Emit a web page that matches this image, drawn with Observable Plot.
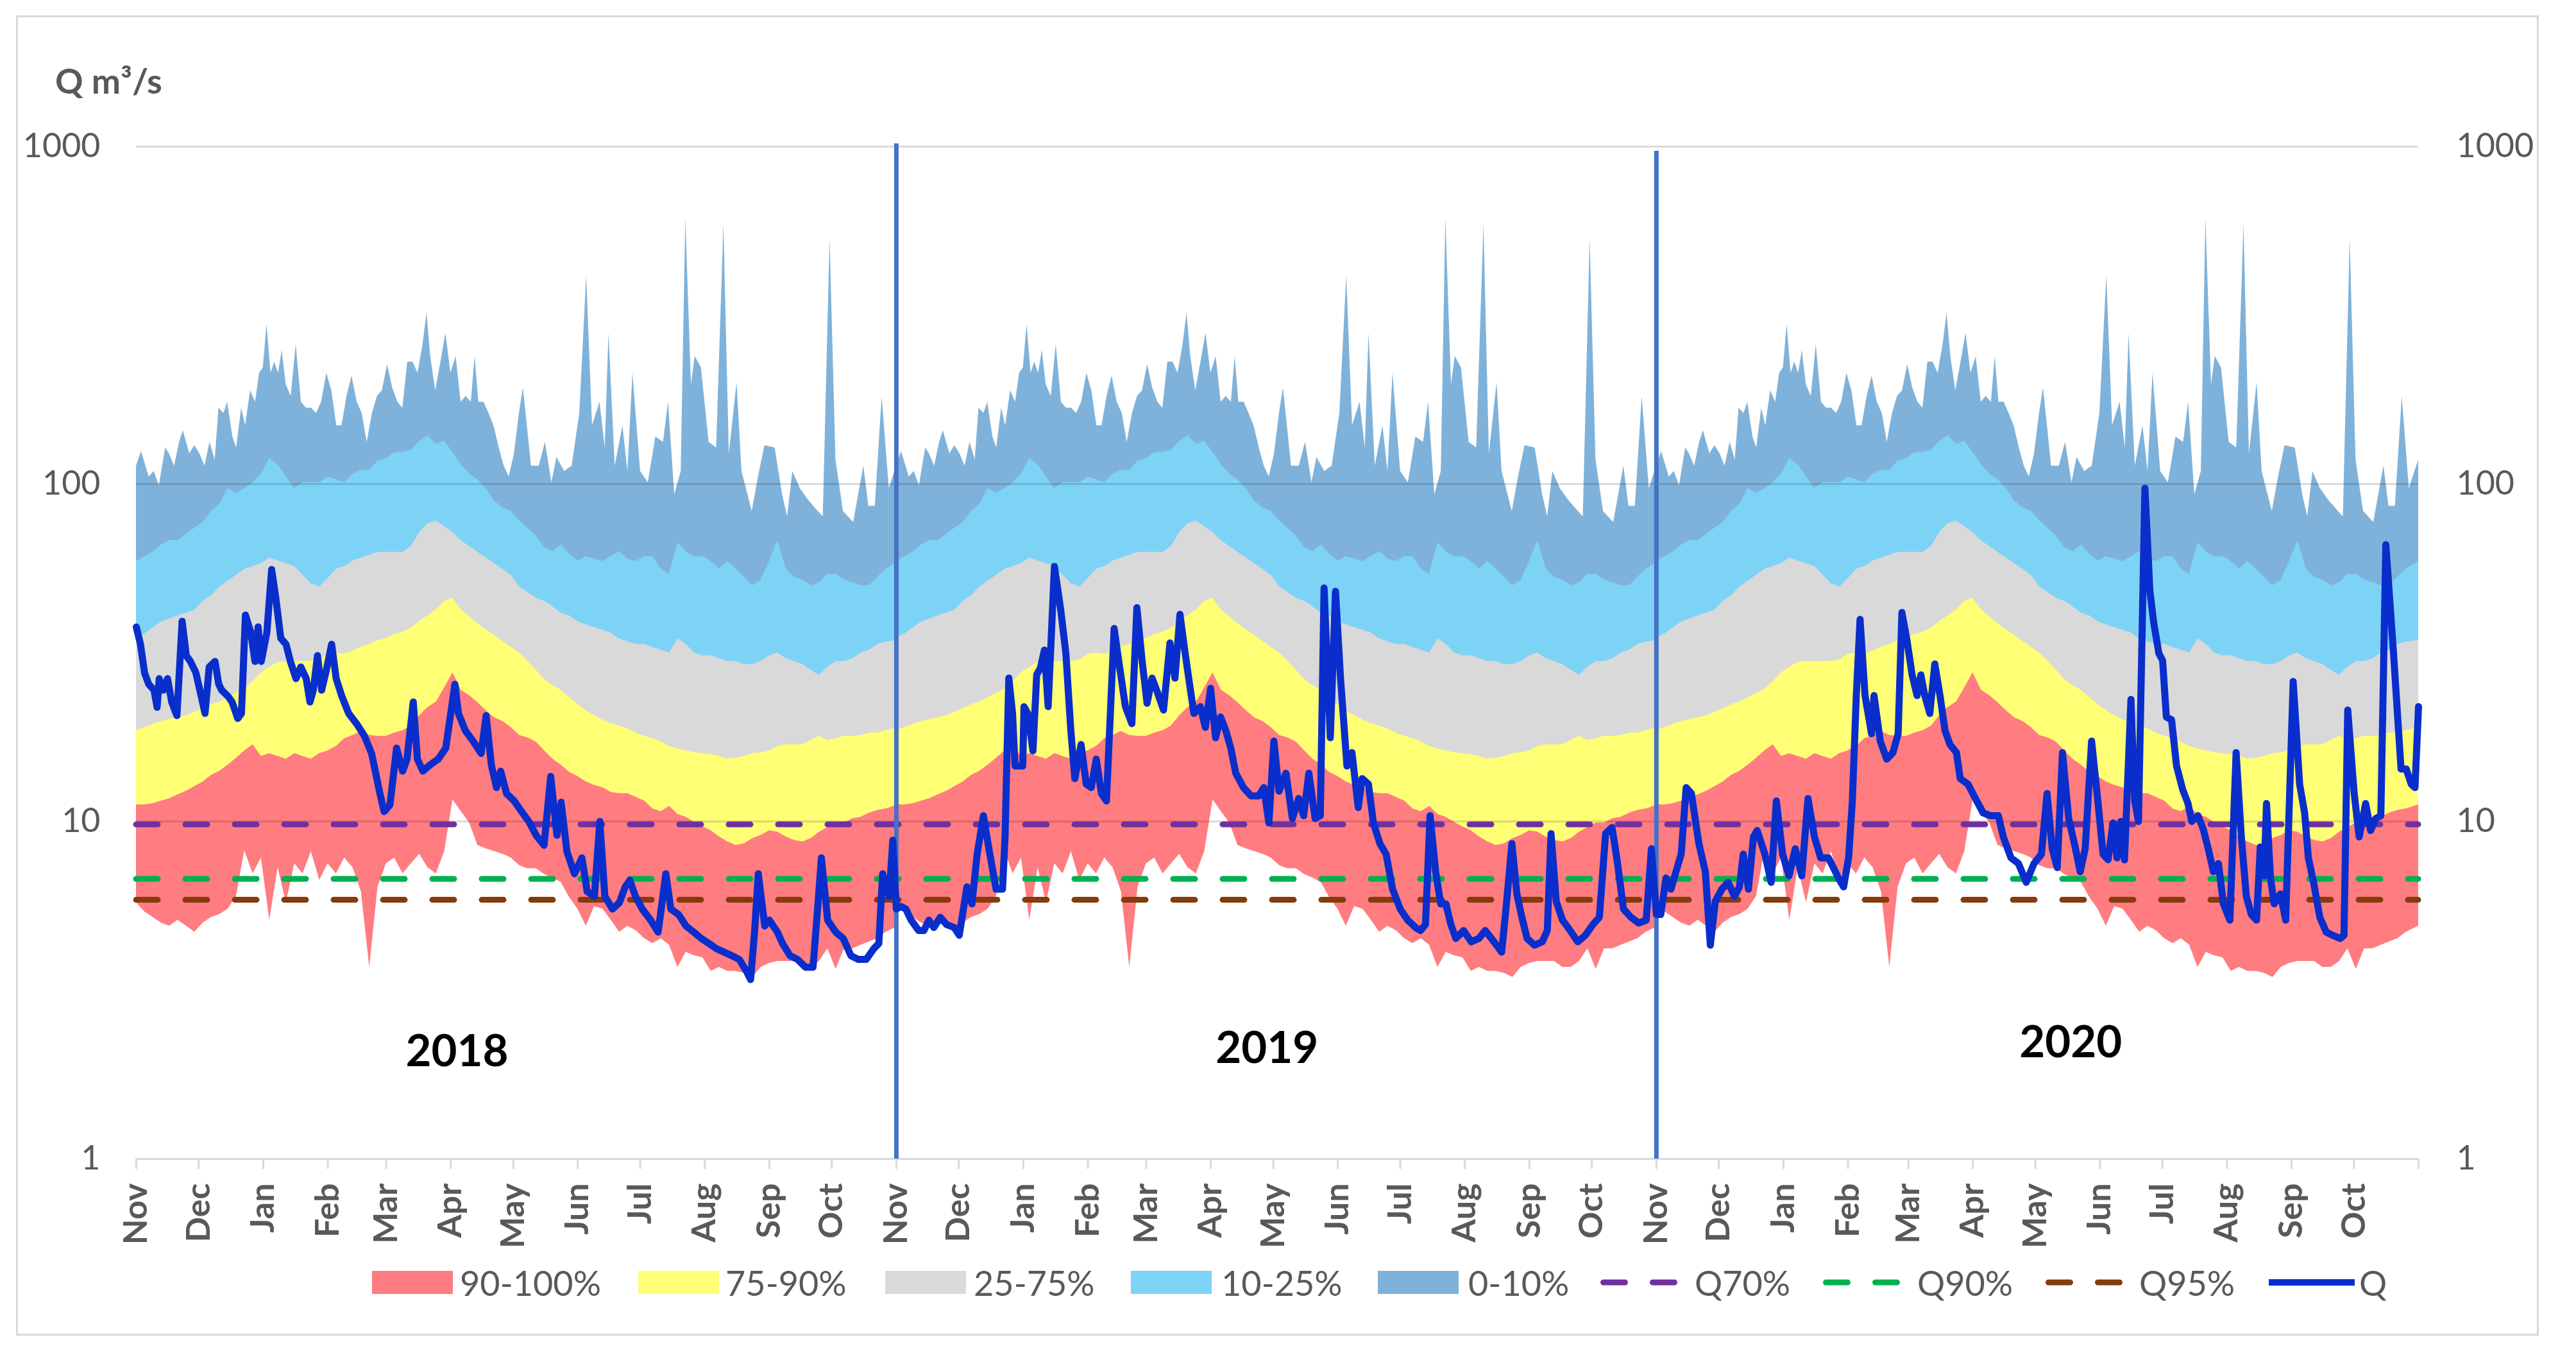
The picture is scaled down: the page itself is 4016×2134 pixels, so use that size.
<!DOCTYPE html>
<html>
<head>
<meta charset="utf-8">
<script src="https://cdn.jsdelivr.net/npm/d3@7"></script>
<script src="https://cdn.jsdelivr.net/npm/@observablehq/plot@0.6"></script>
<style>
  body { margin: 0; background: #fff; font-family: Lato, sans-serif; }
  #frame { position: absolute; left: 25px; top: 24px; width: 3933px; height: 2058px; border: 3px solid #d9d9d9; box-sizing: border-box; }
  #chart { position: absolute; left: 0; top: 0; }
  #unit { position: absolute; left: 86px; top: 99px; font-size: 54px; line-height: 54px; font-weight: 700; color: #595959; }
  .legend-item { position: absolute; top: 1969px; height: 60px; display: flex; align-items: center; font-size: 54px; color: #595959; white-space: nowrap; }
</style>
</head>
<body>
<div id="frame"></div>
<div id="chart"></div>
<div id="unit">Q m³/s</div>
<div id="legend"></div>
<script>
// hydrological years start on 1 November
const hydroYearStarts = ["2017-11-01", "2018-11-01", "2019-11-01"];

// flow climatology, repeated every hydrological year
// maximum (top of the 0-10% band): [day of hydrological year, m3/s]
const bandMaxPoints = [
  [0, 113], [2.4, 125], [6.1, 105], [8.5, 109], [11, 99], [14, 128], [15.8, 123], [18.3, 113], [20.7, 133], [22.5, 144],
  [25.6, 123], [28, 130], [30.5, 123], [32.9, 113], [35.3, 133], [37.8, 118], [39.6, 168], [42, 162], [43.8, 175], [46.3, 138],
  [48.1, 128], [50.5, 168], [52.4, 149], [54.8, 189], [57.2, 175], [59.1, 213], [60.9, 221], [62.7, 297], [64.6, 213], [66.4, 230],
  [68.2, 213], [70, 249], [71.9, 197], [74.3, 182], [76.7, 259], [79.2, 175], [81.6, 168], [84, 168], [86.5, 162], [88.9, 175],
  [91.4, 213], [93.8, 189], [96.2, 149], [98.7, 149], [101.1, 182], [103.5, 209], [106, 175], [108.4, 162], [110.8, 133], [113.3, 162],
  [115.7, 182], [118.1, 189], [120.6, 226], [123, 193], [125.5, 175], [127.9, 168], [130.3, 230], [132.8, 230], [135.2, 213], [137.6, 259],
  [139.5, 321], [141.3, 239], [143.7, 189], [146.2, 230], [148.6, 280], [151, 213], [153.5, 239], [155.9, 175], [158.3, 182], [160.8, 175],
  [162.6, 239], [164.4, 175], [166.9, 175], [169.3, 162], [171.7, 149], [174.2, 128], [176.6, 113], [179, 105], [181.5, 123], [183.9, 162],
  [185.8, 193], [189.7, 113], [193.4, 113], [196.4, 133], [199.5, 101], [201.9, 120], [205.6, 109], [209.2, 113], [212.9, 162], [216.2, 415],
  [219, 149], [222.6, 175], [225.1, 128], [226.9, 280], [229.9, 113], [233.6, 149], [236, 109], [238.4, 213], [242.1, 109], [245.8, 101],
  [249.4, 138], [253.1, 133], [255.5, 175], [258.5, 93], [261.6, 109], [263.8, 614], [266.5, 197], [268.3, 239], [271.3, 221], [275, 133],
  [278.6, 128], [282.1, 590], [284.7, 123], [288.4, 200], [290.8, 109], [295.7, 83], [298.7, 105], [301.8, 130], [306.7, 128], [310.3, 93],
  [312.7, 80], [315.2, 109], [318.8, 97], [322.5, 90], [327.4, 83], [329.8, 80], [333.1, 535], [335.9, 118], [339.5, 83], [344.4, 77],
  [349.3, 113], [351.7, 86], [354.8, 86], [358.1, 182], [361.5, 97], [366, 118]
];

// the other exceedance curves, sampled every 4 days
const bandDays = [...d3.range(0, 364, 4), 366];
const bandP10 = [
  59, 61, 63, 66, 68, 68, 71, 74, 77, 83,
  87, 97, 94, 97, 101, 107, 119, 114, 105, 97,
  101, 101, 101, 105, 103, 101, 107, 110, 110, 117,
  119, 124, 124, 126, 134, 139, 131, 134, 124, 114,
  107, 103, 97, 89, 85, 83, 78, 74, 70, 65,
  63, 66, 62, 59, 61, 60, 59, 61, 63, 60,
  59, 61, 61, 56, 54, 67, 63, 61, 61, 59,
  56, 59, 56, 53, 50, 52, 59, 68, 56, 53,
  52, 50, 51, 54, 54, 52, 51, 50, 50, 53,
  56, 59
];
const bandP25 = [
  35, 36, 37.5, 39, 39.9, 40.7, 41.5, 42.3, 44.9, 46.7,
  49.6, 51.6, 53.7, 55.9, 57, 58.1, 60.4, 59.2, 58.1, 57,
  53.7, 50.6, 49.6, 52.5, 55.9, 57, 59.2, 60.4, 61.6, 62.8,
  62.8, 62.8, 62.8, 65.3, 72, 76.3, 77.8, 74.8, 72, 67.9,
  65.3, 62.8, 60.4, 58.1, 55.9, 53.7, 49.6, 47.7, 45.9, 45,
  43.3, 41.5, 40.7, 39.1, 38.3, 37.6, 36.9, 36.2, 34.8, 34.1,
  33.5, 33.5, 32.8, 32.2, 31.6, 34.8, 33.5, 31.6, 31, 31,
  30.4, 29.8, 29.8, 29.2, 29.2, 29.8, 31, 31.6, 30.4, 29.8,
  29.2, 28.1, 27.1, 28.7, 29.8, 29.8, 30.4, 31.6, 32.2, 33.5,
  34, 34.5
];
const bandP75 = [
  18.6, 19, 19.4, 19.8, 20.1, 20.3, 20.6, 21.1, 21.6, 22.2,
  22.6, 23.3, 24, 24.7, 26, 27.6, 28.7, 29.6, 29.8, 29.8,
  29.8, 29.8, 30.1, 31.3, 31.6, 31.3, 32, 32.9, 33.5, 34.4,
  34.9, 35.8, 36.5, 37.4, 39.2, 40.7, 42.4, 45, 45.9, 42.4,
  40.5, 38.5, 37, 35.6, 34.2, 32.9, 31.6, 29.8, 28.1, 26.3,
  25.3, 24.5, 23.3, 22.2, 21.3, 20.6, 20, 19.5, 19.2, 18.8,
  18.3, 17.9, 17.6, 17.2, 16.7, 16.4, 16.2, 16, 15.9, 15.8,
  15.6, 15.3, 15.4, 15.6, 15.9, 16, 16.2, 16.7, 16.9, 16.9,
  16.9, 17.4, 17.9, 17.4, 17.6, 17.9, 17.9, 18, 18.3, 18.3,
  18.6, 19
];
const bandP90 = [
  11.2, 11.2, 11.3, 11.5, 11.7, 12, 12.3, 12.7, 13.1, 13.7,
  14.1, 14.7, 15.4, 16.2, 16.9, 15.6, 15.9, 15.6, 15.3, 15.9,
  15.6, 15.3, 15.9, 16.2, 16.7, 17.6, 18, 18.5, 18, 17.9,
  17.9, 18.3, 18.6, 19.2, 20.6, 21.8, 22.6, 24.9, 27.6, 24.5,
  23.6, 22.5, 21.3, 20.3, 19.8, 19, 18, 17.7, 17.2, 16.2,
  15.3, 14.7, 14, 13.6, 13.1, 12.8, 12.6, 12.2, 12.1, 12.1,
  11.8, 11.5, 10.9, 10.7, 11.1, 10.5, 10.3, 9.95, 9.65, 9.4,
  9, 8.7, 8.5, 8.6, 8.9, 9.1, 9.4, 9.3, 9, 8.8,
  8.7, 8.9, 9.3, 9.6, 9.9, 9.9, 10.2, 10.3, 10.6, 10.8,
  10.9, 11.2
];
const bandMin = [
  5.75, 5.4, 5.2, 5, 4.9, 5.1, 4.9, 4.7, 5, 5.2,
  5.3, 5.5, 6, 8.2, 7, 7.8, 5.1, 7.3, 5.75, 7.5,
  7, 8.15, 6.7, 7.5, 7, 7.8, 7.3, 6.2, 3.7, 6.4,
  7.5, 7.8, 7, 7.5, 8, 7.3, 7, 8.15, 11.6, 10.7,
  9.9, 8.5, 8.3, 8.15, 8, 7.8, 7.4, 7.25, 7.25, 6.97,
  6.8, 6.6, 5.96, 5.5, 4.9, 5.6, 5.5, 5.1, 4.7, 4.9,
  4.75, 4.5, 4.35, 4.5, 4.3, 3.7, 4.1, 4, 3.95, 3.6,
  3.7, 3.6, 3.6, 3.55, 3.45, 3.7, 3.8, 3.85, 3.85, 3.85,
  3.7, 3.7, 3.85, 4.2, 3.65, 4.2, 4.2, 4.3, 4.4, 4.5,
  4.7, 4.9
];

// observed discharge Q, [day of hydrological year, m3/s]
const q2018 = [
  [0, 37.7], [2, 33.5], [4, 27.5], [6, 25.5], [8.5, 24.5], [10, 21.8], [11, 26.5], [13, 24.5], [15, 26.5], [17, 22.6],
  [19.5, 20.6], [22, 39.2], [24, 31], [26, 29.8], [28.6, 27.6], [30.5, 24.5], [33, 20.9], [35, 28.7], [37.8, 29.8], [39.6, 25.5],
  [41, 24.5], [44, 23.5], [46, 22.6], [48.7, 20.2], [50.5, 20.9], [52.4, 40.9], [55, 36.3], [57, 29.8], [58.5, 37.7], [60, 29.8],
  [62.7, 36.3], [65, 55.8], [67, 45.9], [69.4, 34.9], [71.9, 33.5], [74, 29.8], [76.7, 26.5], [79, 28.7], [81.6, 26.5], [83.4, 22.6],
  [85, 24.5], [87, 31], [89, 24.5], [91, 27.6], [93.8, 33.5], [96, 26.5], [98.7, 23.5], [102, 20.9], [106, 19.4], [109.6, 17.9],
  [113, 15.9], [117, 12.1], [119, 10.7], [121.8, 11.2], [125, 16.5], [127.9, 14.1], [130, 15.3], [133, 22.6], [135, 15.3], [137.6, 14.1],
  [141, 14.7], [145, 15.3], [148.6, 16.5], [151, 20.9], [153, 25.5], [154.7, 20.9], [158, 18.6], [162, 17.2], [165.6, 15.9], [168, 20.6],
  [170.5, 14.7], [173, 12.6], [175, 14.1], [177.8, 12.1], [181.5, 11.5], [185, 10.7], [188.5, 10], [192, 9.1], [195.8, 8.5], [199, 13.6],
  [202, 9.1], [204, 11.4], [206.8, 8.15], [210.4, 7], [214, 7.8], [216.5, 6.2], [220, 6], [222.6, 10], [225, 6], [228.7, 5.5],
  [232, 5.75], [234.8, 6.4], [237, 6.7], [239.7, 6], [243, 5.5], [247, 5.1], [250.6, 4.7], [254.3, 7], [256.7, 5.5], [260.4, 5.3],
  [264, 4.9], [267.7, 4.7], [271.3, 4.5], [275, 4.35], [278.6, 4.2], [282.3, 4.1], [286, 4], [289.6, 3.9], [293, 3.6], [295, 3.4],
  [296.9, 4.7], [298.7, 7], [301.8, 4.9], [304, 5.1], [307.9, 4.7], [310.3, 4.35], [314, 4], [317.6, 3.9], [321.3, 3.7], [325, 3.7],
  [327.4, 5.75], [329, 7.8], [332, 5.1], [335.9, 4.7], [339.5, 4.5], [343.2, 4], [346.8, 3.9], [350.5, 3.9], [354.2, 4.2], [356.6, 4.35],
  [358.4, 7], [361.5, 6], [363.3, 8.8]
];
const q2019 = [
  [0, 5.5], [2.2, 5.6], [4.6, 5.5], [7.1, 5.1], [10.7, 4.75], [13.2, 4.75], [15.6, 5.1], [18, 4.85], [21.1, 5.2], [24.1, 4.95],
  [27.8, 4.85], [30.2, 4.6], [33.9, 6.4], [36.3, 5.7], [38.8, 8], [41.8, 10.4], [44.9, 8], [47.9, 6.3], [51, 6.3], [52.2, 9],
  [54, 26.6], [55.8, 20.9], [57, 14.6], [60.7, 14.6], [61.3, 21.9], [63.1, 20.9], [65.6, 16.2], [67.4, 27.2], [69.2, 28.5], [71.1, 32.2],
  [72.9, 21.9], [75.9, 57], [79, 42.1], [81.4, 31.5], [83.8, 18.6], [85.7, 13.4], [88.7, 16.9], [91.2, 12.9], [93.6, 12.6], [96, 15.3],
  [98.5, 12.1], [100.9, 11.5], [104.6, 37.3], [107, 29.3], [110, 21.9], [113.1, 19.5], [115.5, 43], [118, 30], [120.4, 22.4], [122.8, 26.6],
  [125.3, 24.2], [128.3, 21.4], [131.4, 33.8], [133.8, 26.6], [136.2, 41.1], [138.7, 31.5], [141.1, 24.8], [142.9, 20.9], [146, 21.9], [148.4, 19],
  [150.9, 24.8], [153.3, 17.7], [155.7, 20.4], [158.2, 18.6], [160.6, 16.5], [163, 13.9], [166.7, 12.6], [170.4, 11.9], [174, 11.9], [176.5, 12.6],
  [178.9, 9.9], [181.3, 17.3], [183.8, 12.3], [187.1, 13.9], [190.2, 10.2], [193.2, 11.7], [195.6, 10.4], [198.1, 13.9], [201.1, 10.2], [203.6, 10.4],
  [205.4, 49.2], [208.4, 17.7], [210.9, 48.1], [213.3, 26.6], [216.4, 14.6], [218.8, 16], [221.8, 11], [223.7, 13.4], [226.7, 12.9], [229.1, 9.9],
  [232.2, 8.6], [235.2, 8], [238.3, 6.3], [242, 5.5], [245.6, 5.1], [249.3, 4.85], [251.7, 4.75], [254.1, 4.95], [256.3, 10.4], [259, 7.1],
  [261.4, 5.7], [263.9, 5.7], [266.3, 4.95], [268.7, 4.5], [272.4, 4.75], [276.1, 4.4], [279.7, 4.5], [282.8, 4.75], [285.8, 4.5], [288.2, 4.3],
  [290.7, 4.1], [293.1, 5.8], [295.6, 8.6], [298, 6.1], [300.4, 5.2], [302.9, 4.5], [306.5, 4.3], [310.2, 4.4], [312.6, 4.75], [314.4, 9.2],
  [316.9, 5.8], [319.9, 5.1], [323.6, 4.75], [327.2, 4.4], [330.9, 4.6], [334.5, 4.95], [337.6, 5.2], [340.6, 9.2], [343.7, 9.6], [346.1, 7.7],
  [349.2, 5.5], [352.8, 5.2], [356.5, 5], [360.1, 5.1], [362.6, 8.3]
];
const q2020 = [
  [0, 5.3], [2.1, 5.3], [4.6, 6.8], [7, 6.3], [9.4, 7.1], [11.9, 8], [14.3, 12.6], [16.8, 12.1], [20.4, 8.6], [23.5, 7.1],
  [25.9, 4.3], [28.3, 5.8], [31.4, 6.3], [34.4, 6.6], [37.5, 6], [39.9, 6.4], [41.7, 8], [44.2, 6.3], [46.6, 9], [48.4, 9.4],
  [52.1, 8], [55.1, 6.6], [57.6, 11.5], [60.6, 8], [63.7, 6.9], [66.7, 8.3], [69.8, 6.9], [72.8, 11.7], [75.9, 9], [78.9, 7.8],
  [82.6, 7.8], [85, 7.3], [87.4, 6.8], [89.9, 6.4], [92.3, 7.8], [94.1, 11.5], [96, 23.6], [97.8, 39.7], [100.2, 23.6], [103.3, 18.2],
  [104.5, 23.6], [107.5, 17.3], [110.6, 15.3], [113.6, 16], [116.1, 18.2], [117.9, 41.6], [120.3, 34.5], [122.8, 27.2], [125.2, 23.6], [127, 27.2],
  [128.9, 23.6], [131.3, 20.9], [133.7, 29.3], [136.2, 23.6], [138.6, 18.6], [141, 16.9], [144.1, 16], [145.9, 13.4], [149.6, 12.9], [153.2, 11.7],
  [156.9, 10.6], [160.5, 10.4], [164.2, 10.4], [166.6, 9], [170.3, 7.8], [173.9, 7.5], [177.6, 6.6], [181.3, 7.5], [184.9, 8], [187.6, 12.1],
  [190.1, 8.3], [192.5, 7.3], [195, 16], [198, 10.2], [201.1, 8.4], [203.5, 7.1], [205.9, 8.3], [209, 17.3], [212, 11.5], [214.5, 8],
  [216.9, 7.7], [219.3, 9.9], [221.2, 7.8], [223, 10], [224.8, 7.7], [227.9, 23], [229.7, 11.5], [231.5, 10], [234.6, 97.2], [237, 48.1],
  [238.8, 38.9], [241.3, 31.5], [243.1, 30], [244.9, 20.4], [247.4, 20], [249.8, 14.6], [252.8, 12.4], [255.3, 11.3], [257.1, 10], [260.1, 10.4],
  [262.6, 9.5], [265, 8.3], [267.5, 7.1], [269.9, 7.5], [272.3, 5.7], [275.4, 5.1], [278.4, 16], [280.9, 9], [283.3, 6], [285.7, 5.3],
  [288.2, 5.1], [290, 8.4], [291.8, 6.9], [293, 11.3], [294.9, 6.8], [296.7, 5.7], [299.7, 6.1], [302.2, 5.1], [305.8, 26], [308.9, 12.9],
  [311.3, 10.6], [313.1, 7.8], [315.6, 6.6], [318.6, 5.2], [321.7, 4.7], [324.7, 4.6], [328.4, 4.5], [330.2, 4.6], [332, 21.4], [335.1, 12.1],
  [337.5, 9], [340.6, 11.3], [343, 9.4], [345.4, 10.2], [347.9, 10.4], [350.3, 66.1], [354, 31.5], [357.6, 14.3], [360.1, 14.3], [362.5, 12.9],
  [364.3, 12.6], [366, 21.9]
];

// low-flow thresholds
const thresholdLabels = ["Q70%", "Q90%", "Q95%"];
const thresholdValues = [9.8, 6.76, 5.86];

// annotations
const yearLabels = ["2018", "2019", "2020"];
const yearLabelDates = ["2018-04-04", "2019-04-28", "2020-05-18"];
const yearLabelValues = [2.07, 2.12, 2.2];
const separatorDates = ["2018-11-01", "2019-11-01"];
const separatorTops = [1020, 970];

const bandLabels = ["90-100%", "75-90%", "25-75%", "10-25%", "0-10%"];

// ---- styling
const bandColors = ["#ff7c80", "#ffff75", "#d9d9d9", "#7dd3f6", "#7fb2da"];
const thresholdColors = ["#7030a0", "#00b050", "#843c0c"];
const qColor = "#0a2ecb";
const dash = "34,43";

const dayMs = 864e5;
const atDay = (start, day) => new Date(Date.parse(start) + day * dayMs);

const maxRows = hydroYearStarts.flatMap((start, y) =>
  bandMaxPoints.map(([day, v]) => ({ year: y, date: atDay(start, day), v }))
);
const bandRows = hydroYearStarts.flatMap((start, y) =>
  bandDays.map((day, i) => ({
    year: y,
    date: atDay(start, day),
    p10: bandP10[i],
    p25: bandP25[i],
    p75: bandP75[i],
    p90: bandP90[i],
    min: bandMin[i],
  }))
);
const qRows = [q2018, q2019, q2020].flatMap((series, y) =>
  series.map(([day, q]) => ({ date: atDay(hydroYearStarts[y], day), q }))
);

const xStart = new Date("2017-11-01");
const xEnd = new Date("2020-11-01");
const monthTicks = d3.utcMonth.range(xStart, new Date("2020-11-02"));
const monthFormat = d3.utcFormat("%b");

// overlapping areas drawn from the top band down, like the original spreadsheet chart
const layer = (rows, key, fill) => Plot.areaY(rows, { x: "date", y1: 1, y2: key, z: "year", fill });

const chart = Plot.plot({
  width: 4016,
  height: 1960,
  marginLeft: 212,
  marginRight: 246,
  marginTop: 228,
  marginBottom: 154,
  style: { fontFamily: "Lato, sans-serif", background: "transparent" },
  x: { type: "utc", domain: [xStart, xEnd] },
  y: { type: "log", domain: [1, 1000] },
  marks: [
    layer(maxRows, "v", bandColors[4]),
    layer(bandRows, "p10", bandColors[3]),
    layer(bandRows, "p25", bandColors[2]),
    layer(bandRows, "p75", bandColors[1]),
    layer(bandRows, "p90", bandColors[0]),
    layer(bandRows, "min", "#fff"),
    Plot.ruleY([10, 100, 1000], { stroke: "#000", strokeOpacity: 0.14, strokeWidth: 3 }),
    Plot.ruleY([1], { stroke: "#d9d9d9", strokeWidth: 3 }),
    ...thresholdValues.map((v, i) =>
      Plot.ruleY([v], { stroke: thresholdColors[i], strokeWidth: 9, strokeDasharray: dash, strokeLinecap: "round" })
    ),
    Plot.ruleX(separatorDates, {
      x: (d) => new Date(d),
      y1: 1,
      y2: (d, i) => separatorTops[i],
      stroke: "#4472c4",
      strokeWidth: 7,
    }),
    Plot.line(qRows, { x: "date", y: "q", stroke: qColor, strokeWidth: 11, strokeLinejoin: "round" }),
    Plot.text(yearLabels, {
      x: (d, i) => new Date(yearLabelDates[i]),
      y: (d, i) => yearLabelValues[i],
      text: (d) => d,
      fontSize: 69,
      fontWeight: "bold",
      fill: "#000",
    }),
    Plot.axisX({
      ticks: monthTicks,
      tickFormat: (d) => (d >= xEnd ? "" : monthFormat(d)),
      tickRotate: -90,
      tickSize: 16,
      tickPadding: 22,
      stroke: "#d9d9d9",
      strokeWidth: 3,
      fill: "#595959",
      fontSize: 52,
      fontWeight: "bold",
      label: null,
    }),
    Plot.axisY({
      anchor: "left",
      ticks: [1, 10, 100, 1000],
      tickFormat: "d",
      tickSize: 0,
      tickPadding: 56,
      fill: "#595959",
      fontSize: 52,
      label: null,
    }),
    Plot.axisY({
      anchor: "right",
      ticks: [1, 10, 100, 1000],
      tickFormat: "d",
      tickSize: 0,
      tickPadding: 59,
      fill: "#595959",
      fontSize: 52,
      label: null,
    }),
  ],
});
document.getElementById("chart").append(chart);

// ---- legend (HTML, below the plot area)
const legend = document.getElementById("legend");
const sampleLefts = [580, 995, 1380, 1763, 2148, 2495, 2842, 3189, 3537];
const textLefts = [717, 1131, 1518, 1904, 2289, 2642, 2989, 3335, 3678];
const legendEntries = [
  ...bandLabels.map((label, i) => ({ label, kind: "swatch", color: bandColors[i] })),
  ...thresholdLabels.map((label, i) => ({ label, kind: "dash", color: thresholdColors[i] })),
  { label: "Q", kind: "line", color: qColor },
];
const svgNS = "http://www.w3.org/2000/svg";
legendEntries.forEach((e, i) => {
  const sample = document.createElement("div");
  sample.className = "legend-item";
  sample.style.left = sampleLefts[i] + "px";
  if (e.kind === "swatch") {
    const box = document.createElement("div");
    box.style.cssText = `width:126px;height:36px;background:${e.color}`;
    sample.append(box);
  } else {
    const w = e.kind === "dash" ? 120 : 134;
    const svg = document.createElementNS(svgNS, "svg");
    svg.setAttribute("width", w);
    svg.setAttribute("height", 20);
    const line = document.createElementNS(svgNS, "line");
    line.setAttribute("y1", 10);
    line.setAttribute("y2", 10);
    line.setAttribute("stroke", e.color);
    if (e.kind === "dash") {
      line.setAttribute("x1", 4.5);
      line.setAttribute("x2", w - 4.5);
      line.setAttribute("stroke-width", 9);
      line.setAttribute("stroke-dasharray", dash);
      line.setAttribute("stroke-linecap", "round");
    } else {
      line.setAttribute("x1", 0);
      line.setAttribute("x2", w);
      line.setAttribute("stroke-width", 10);
    }
    svg.append(line);
    sample.append(svg);
  }
  legend.append(sample);

  const text = document.createElement("div");
  text.className = "legend-item";
  text.style.left = textLefts[i] + "px";
  text.textContent = e.label;
  legend.append(text);
});
</script>
</body>
</html>
